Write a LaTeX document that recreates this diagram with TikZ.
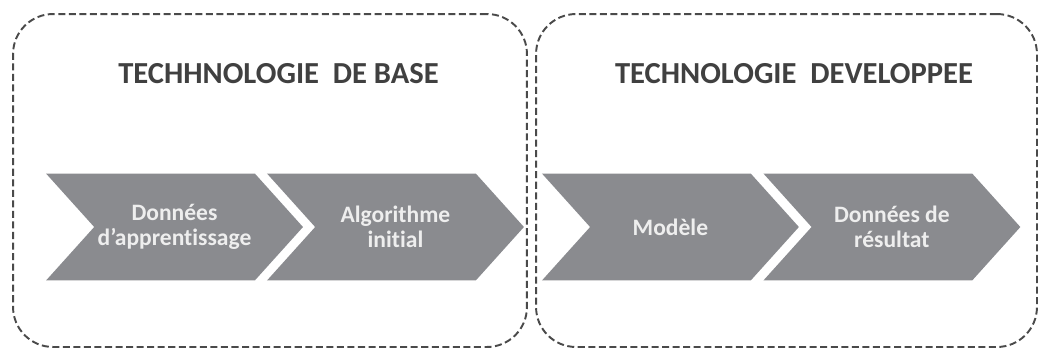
\documentclass[tikz,border=0pt]{standalone}
\usepackage{fontspec}
\setmainfont{Carlito}[Ligatures=NoCommon]
\usetikzlibrary{shapes.symbols,positioning}
\definecolor{chevgray}{HTML}{8A8B8F}
\definecolor{chevtext}{HTML}{EEEEEE}
\definecolor{titlegray}{HTML}{404040}
\definecolor{framegray}{HTML}{4A4A4A}
\begin{document}
\begin{tikzpicture}[
        x=0.02cm, y=-0.02cm,
        node distance=4.42cm,
        panel/.style={rectangle, draw=framegray, dash pattern=on 4pt off 2pt, line width=1.1pt, rounded corners=0.8cm, inner sep=0pt},
        title/.style={font=\bfseries\fontsize{17.4}{20}\selectfont, text=titlegray},
        chevron/.style={signal, signal from=west, signal to=east, signal pointer angle=96, fill=chevgray, text=chevtext, font=\bfseries\fontsize{13.4}{14}\selectfont, align=center, minimum width=5.14cm, minimum height=2.14cm, inner sep=0pt}
    ]
        \useasboundingbox (0,0) rectangle (1040,349);

        \node [panel, minimum width=10.28cm, minimum height=6.66cm] (base) at (270,180.5) {};
        \node [panel, minimum width=10.02cm, minimum height=6.66cm] (dev) at (786.5,180.5) {};

        \node [title] (basetitle) at (278.5,74) {TECHHNOLOGIE\ \ DE BASE};
        \node [title] (devtitle) at (794,74) {TECHNOLOGIE\ \ DEVELOPPEE};

        \node [chevron] (data) at (174.5,227) {Données\\d’apprentissage};
        \node [chevron, right of=data] (algo) {Algorithme\\initial};
        \node [chevron, right of=algo, node distance=5.5cm] (model) {Modèle};
        \node [chevron, right of=model, node distance=4.43cm] (result) {Données de\\résultat};
    \end{tikzpicture}
\end{document}
